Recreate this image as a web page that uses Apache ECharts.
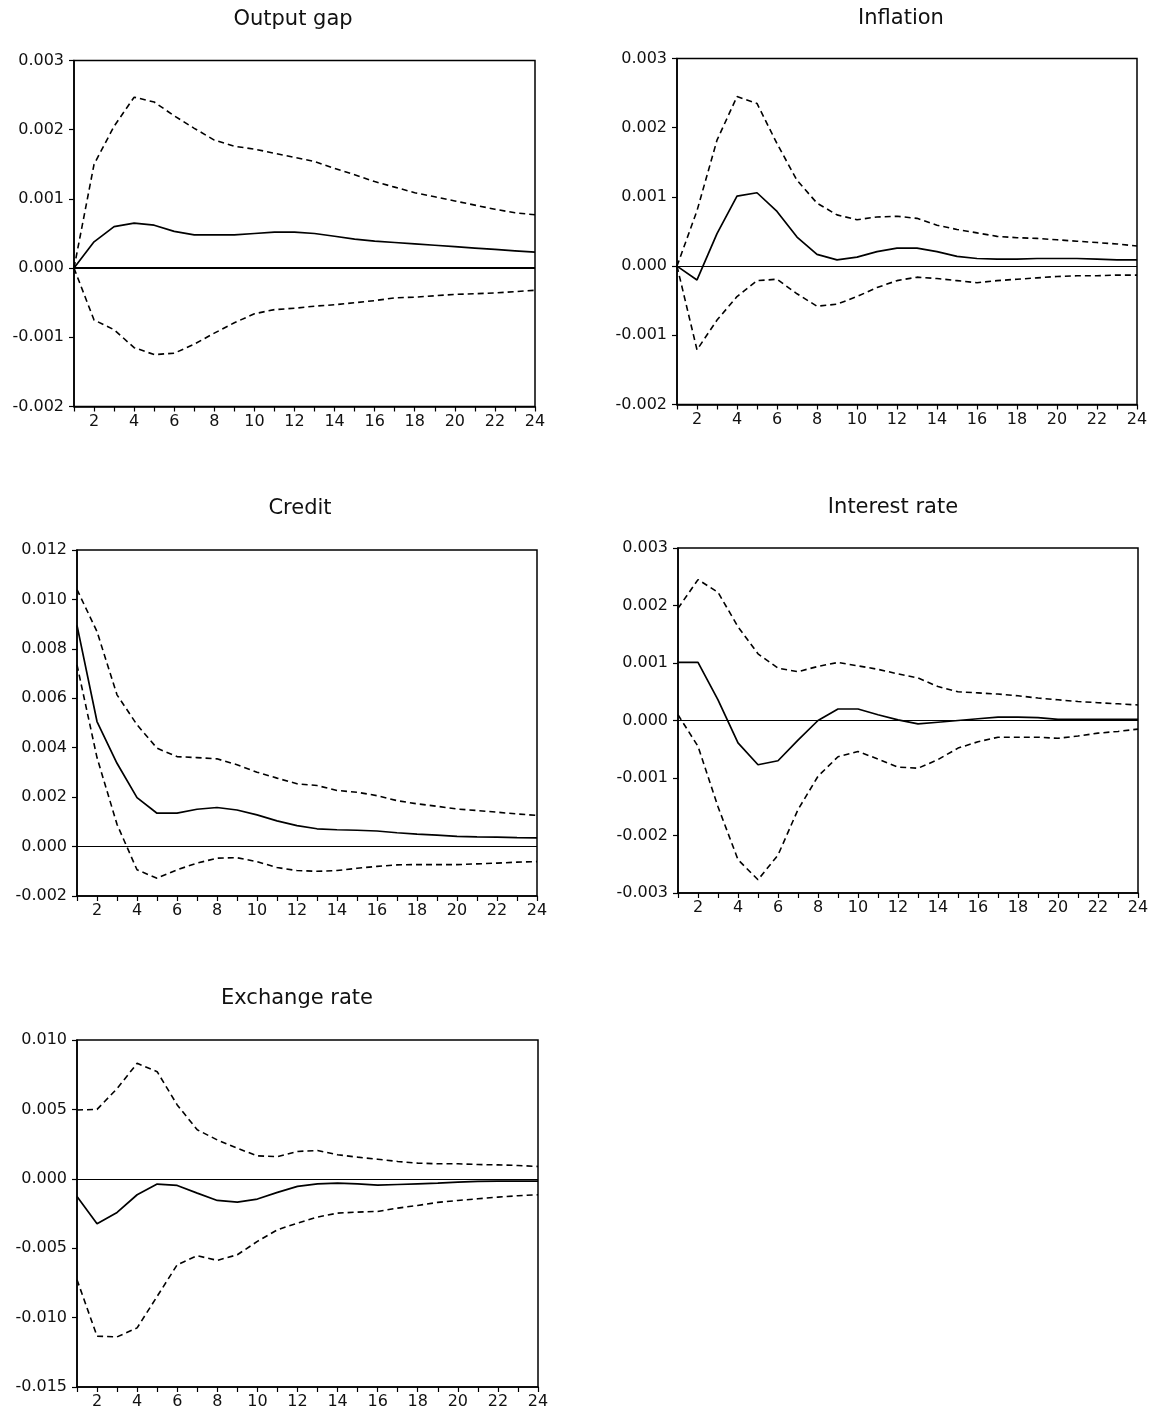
<!DOCTYPE html>
<html>
<head>
<meta charset="utf-8">
<title>Impulse responses</title>
<script src="https://cdn.jsdelivr.net/npm/echarts@6/dist/echarts.min.js"></script>
<style>
  html, body { margin: 0; padding: 0; background: #fff; }
  #chart { width: 1153px; height: 1418px; }
</style>
</head>
<body>
<div id="chart"></div>
<script>
// Horizon (periods after the shock)
const periods = Array.from({ length: 24 }, (_, i) => i + 1);

// Output gap: response and +/- 2 s.e. bands
const outputResp  = [0, 0.00038, 0.0006, 0.00065, 0.00062, 0.00053, 0.00048, 0.00048, 0.00048, 0.0005, 0.00052, 0.00052, 0.0005, 0.00046, 0.00042, 0.00039, 0.00037, 0.00035, 0.00033, 0.00031, 0.00029, 0.00027, 0.00025, 0.00023];
const outputUpper = [0, 0.0015, 0.00205, 0.00247, 0.0024, 0.0022, 0.00202, 0.00185, 0.00176, 0.00172, 0.00166, 0.0016, 0.00154, 0.00144, 0.00135, 0.00125, 0.00117, 0.00109, 0.00103, 0.00097, 0.00091, 0.00085, 0.0008, 0.00077];
const outputLower = [0, -0.00075, -0.00089, -0.00115, -0.00125, -0.00123, -0.0011, -0.00094, -0.00079, -0.00066, -0.0006, -0.00058, -0.00055, -0.00053, -0.0005, -0.00047, -0.00043, -0.00042, -0.0004, -0.00038, -0.00037, -0.00036, -0.00034, -0.00032];

// Inflation
const inflResp  = [0, -0.0002, 0.00047, 0.00101, 0.00106, 0.00079, 0.00042, 0.00017, 0.00009, 0.00013, 0.00021, 0.00026, 0.00026, 0.00021, 0.00014, 0.00011, 0.0001, 0.0001, 0.00011, 0.00011, 0.00011, 0.0001, 0.00009, 0.00009];
const inflUpper = [0, 0.0008, 0.00182, 0.00245, 0.00235, 0.00177, 0.00124, 0.00091, 0.00074, 0.00067, 0.00071, 0.00072, 0.00069, 0.00059, 0.00053, 0.00048, 0.00043, 0.00041, 0.0004, 0.00038, 0.00036, 0.00034, 0.00032, 0.00029];
const inflLower = [0, -0.00121, -0.00078, -0.00044, -0.00021, -0.00019, -0.0004, -0.00058, -0.00055, -0.00044, -0.00031, -0.00021, -0.00016, -0.00018, -0.00021, -0.00024, -0.00021, -0.00019, -0.00017, -0.00015, -0.00014, -0.00014, -0.00013, -0.00013];

// Credit
const creditResp  = [0.00895, 0.00506, 0.00337, 0.00198, 0.00135, 0.00135, 0.00151, 0.00158, 0.00148, 0.00128, 0.00104, 0.00085, 0.00072, 0.00068, 0.00066, 0.00063, 0.00056, 0.0005, 0.00046, 0.00041, 0.00039, 0.00038, 0.00036, 0.00035];
const creditUpper = [0.0104, 0.0087, 0.00614, 0.00493, 0.00398, 0.00364, 0.0036, 0.00355, 0.00331, 0.00301, 0.00277, 0.00254, 0.00247, 0.00227, 0.0022, 0.00206, 0.00186, 0.00173, 0.00163, 0.00152, 0.00146, 0.00139, 0.00132, 0.00126];
const creditLower = [0.00735, 0.0036, 0.0009, -0.00094, -0.00128, -0.00094, -0.00067, -0.00047, -0.00045, -0.00061, -0.00085, -0.00097, -0.001, -0.00097, -0.00088, -0.0008, -0.00074, -0.00073, -0.00073, -0.00073, -0.0007, -0.00067, -0.00063, -0.00061];

// Interest rate
const rateResp  = [0.00101, 0.00101, 0.00036, -0.00039, -0.00077, -0.0007, -0.00034, 0, 0.0002, 0.0002, 0.0001, 0.00001, -0.00006, -0.00003, 0, 0.00003, 0.00006, 0.00006, 0.00005, 0.00002, 0.00002, 0.00002, 0.00002, 0.00002];
const rateUpper = [0.00195, 0.00245, 0.00223, 0.00163, 0.00116, 0.00091, 0.00085, 0.00094, 0.00101, 0.00095, 0.00089, 0.00081, 0.00074, 0.00059, 0.0005, 0.00048, 0.00046, 0.00043, 0.00039, 0.00036, 0.00033, 0.00031, 0.00029, 0.00027];
const rateLower = [0.0001, -0.00045, -0.0015, -0.00242, -0.00277, -0.00234, -0.00155, -0.00097, -0.00063, -0.00054, -0.00067, -0.00081, -0.00083, -0.00068, -0.00048, -0.00037, -0.00029, -0.00029, -0.00029, -0.00031, -0.00027, -0.00022, -0.00019, -0.00015];

// Exchange rate
const fxResp  = [-0.00127, -0.00324, -0.00242, -0.00115, -0.00038, -0.00048, -0.00103, -0.00156, -0.00168, -0.00146, -0.00098, -0.00055, -0.00036, -0.00031, -0.00036, -0.00046, -0.00041, -0.00036, -0.00031, -0.00024, -0.00019, -0.00017, -0.00017, -0.00017];
const fxUpper = [0.00496, 0.005, 0.0065, 0.00832, 0.00772, 0.00532, 0.00353, 0.0028, 0.0022, 0.00165, 0.0016, 0.00197, 0.00204, 0.00173, 0.00156, 0.00141, 0.00125, 0.00113, 0.00108, 0.00108, 0.00103, 0.001, 0.00096, 0.00089];
const fxLower = [-0.00727, -0.01134, -0.01139, -0.01074, -0.00847, -0.00619, -0.00554, -0.00588, -0.00547, -0.00451, -0.00367, -0.00319, -0.00276, -0.00247, -0.0024, -0.00235, -0.00211, -0.00192, -0.0017, -0.00156, -0.00144, -0.00132, -0.00122, -0.00115];

// Panel titles and value-axis ranges
const panelTitles = ['Output gap', 'Inflation', 'Credit', 'Interest rate', 'Exchange rate'];
const yMins      = [-0.002, -0.002, -0.002, -0.003, -0.015];
const yMaxs      = [0.003, 0.003, 0.012, 0.003, 0.010];
const yIntervals = [0.001, 0.001, 0.002, 0.001, 0.005];

const panelData = [
  [outputResp, outputUpper, outputLower],
  [inflResp, inflUpper, inflLower],
  [creditResp, creditUpper, creditLower],
  [rateResp, rateUpper, rateLower],
  [fxResp, fxUpper, fxLower]
];

// Layout of the five plot areas (pixels)
const layout = [
  { left: 74,  top: 60.5, width: 461, height: 346, titleX: 293, titleY: 9,   zeroWidth: 2 },
  { left: 677, top: 58.5, width: 460, height: 346, titleX: 901, titleY: 8,   zeroWidth: 1 },
  { left: 77,  top: 550,  width: 460, height: 346, titleX: 300, titleY: 498, zeroWidth: 1 },
  { left: 678, top: 548,  width: 460, height: 345, titleX: 893, titleY: 497, zeroWidth: 1 },
  { left: 77,  top: 1040, width: 461, height: 347, titleX: 297, titleY: 988, zeroWidth: 1 }
];

const FONT = '"DejaVu Sans", "Liberation Sans", Arial, sans-serif';

const toPairs = arr => arr.map((v, i) => [periods[i], v]);

const grids = [], xAxes = [], yAxes = [], titles = [], series = [];

layout.forEach((g, i) => {
  grids.push({
    left: g.left, top: g.top, width: g.width, height: g.height,
    show: true, borderColor: '#000', borderWidth: 1.5, backgroundColor: 'transparent'
  });
  titles.push({
    text: panelTitles[i], left: g.titleX, top: g.titleY, textAlign: 'center', padding: 0,
    textStyle: { fontFamily: FONT, fontSize: 21, fontWeight: 'normal', color: '#111' }
  });
  xAxes.push({
    type: 'value', gridIndex: i, min: 1, max: 24, interval: 1,
    axisLine: { show: true, onZero: false, lineStyle: { color: '#000', width: 1.5 } },
    axisTick: { show: true, inside: false, length: 5, lineStyle: { color: '#000', width: 1.2 } },
    axisLabel: {
      fontFamily: FONT, fontSize: 16, color: '#111', margin: 7,
      formatter: v => (v % 2 === 0 ? String(v) : '')
    },
    splitLine: { show: false }
  });
  yAxes.push({
    type: 'value', gridIndex: i, min: yMins[i], max: yMaxs[i], interval: yIntervals[i],
    axisLine: { show: true, onZero: false, lineStyle: { color: '#000', width: 1.5 } },
    axisTick: { show: true, inside: false, length: 5, lineStyle: { color: '#000', width: 1.2 } },
    axisLabel: {
      fontFamily: FONT, fontSize: 16, color: '#111', margin: 10,
      formatter: v => v.toFixed(3)
    },
    splitLine: { show: false }
  });

  const [resp, upper, lower] = panelData[i];
  series.push({
    type: 'line', xAxisIndex: i, yAxisIndex: i, data: toPairs(resp),
    showSymbol: false, smooth: false, silent: true,
    lineStyle: { color: '#000', width: 1.7, type: 'solid' },
    markLine: {
      silent: true, symbol: 'none', label: { show: false },
      lineStyle: { color: '#000', width: g.zeroWidth, type: 'solid' },
      data: [{ yAxis: 0 }]
    },
    z: 3
  });
  [upper, lower].forEach(band => {
    series.push({
      type: 'line', xAxisIndex: i, yAxisIndex: i, data: toPairs(band),
      showSymbol: false, smooth: false, silent: true,
      lineStyle: { color: '#000', width: 1.6, type: [6, 4] },
      z: 2
    });
  });
});

const chart = echarts.init(document.getElementById('chart'), null, { renderer: 'canvas' });
chart.setOption({
  backgroundColor: '#fff',
  animation: false,
  title: titles,
  grid: grids,
  xAxis: xAxes,
  yAxis: yAxes,
  series: series
});
</script>
</body>
</html>
